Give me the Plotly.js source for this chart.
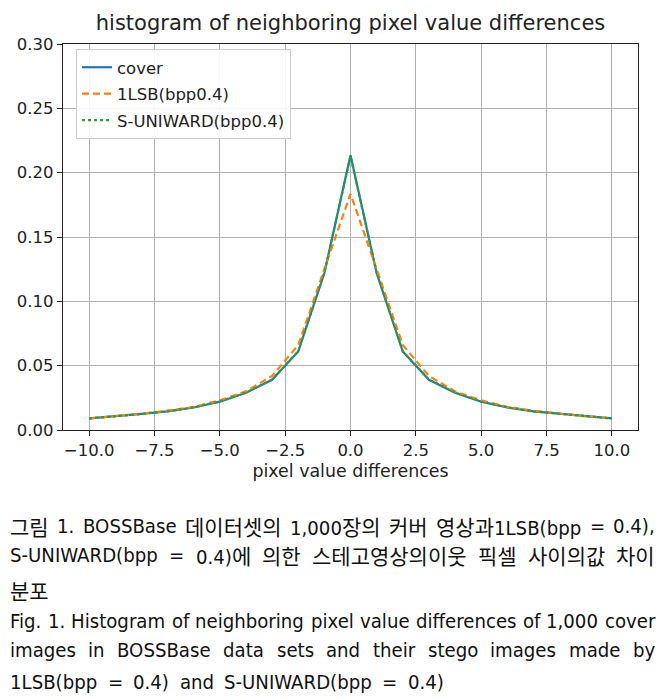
<!DOCTYPE html>
<html>
<head>
<meta charset="utf-8">
<script src="https://cdn.plot.ly/plotly-3.0.1.min.js"></script>
<style>
  html, body { margin: 0; padding: 0; background: #fff; }
  #chart { width: 666px; height: 699px; }
</style>
</head>
<body>
<div id="chart"></div>
<script>
// pixel value differences on the x axis
const diffs = [-10, -9, -8, -7, -6, -5, -4, -3, -2, -1, 0, 1, 2, 3, 4, 5, 6, 7, 8, 9, 10];

// relative frequency
const coverVals = [0.009, 0.0105, 0.0125, 0.0145, 0.0175, 0.022, 0.029, 0.039, 0.061, 0.122, 0.2135,
                   0.122, 0.061, 0.039, 0.029, 0.022, 0.0175, 0.0145, 0.0125, 0.0105, 0.009];
const lsbVals = [0.009, 0.0106, 0.0127, 0.015, 0.018, 0.023, 0.030, 0.042, 0.066, 0.125, 0.1836,
                 0.125, 0.066, 0.042, 0.030, 0.023, 0.018, 0.015, 0.0127, 0.0106, 0.009];
const suniVals = [0.009, 0.0105, 0.0125, 0.0145, 0.0176, 0.0221, 0.0291, 0.0392, 0.0612, 0.1222, 0.2128,
                  0.1222, 0.0612, 0.0392, 0.0291, 0.0221, 0.0176, 0.0145, 0.0125, 0.0105, 0.009];

const xTicks = [-10, -7.5, -5, -2.5, 0, 2.5, 5, 7.5, 10];

// caption under the figure (paper text)
const captionLines = [
    '그림 1. BOSSBase 데이터셋의 1,000장의 커버 영상과1LSB(bpp = 0.4),',
    'S-UNIWARD(bpp = 0.4)에 의한 스테고영상의이웃 픽셀 사이의값 차이',
    '분포',
    'Fig. 1. Histogram of neighboring pixel value differences of 1,000 cover',
    'images in BOSSBase data sets and their stego images made by',
    '1LSB(bpp = 0.4) and S-UNIWARD(bpp = 0.4)'
];
const captionY = [526, 555, 590, 621, 650, 682];
const captionRight = [655, 655, 0, 655, 655, 444]; // 0 = no justification

const W = 666, H = 699;
const M = { l: 63, r: 28, t: 44, b: 269 };
const plotW = W - M.l - M.r, plotH = H - M.t - M.b;

const ctx = document.createElement('canvas').getContext('2d');

// pick a narrow sans if one is installed
function hasFont(name) {
    const probe = 'Histogram of neighboring 0123456789';
    ctx.font = '40px monospace';
    const a = ctx.measureText(probe).width;
    ctx.font = '40px "' + name + '", monospace';
    return Math.abs(ctx.measureText(probe).width - a) > 0.5;
}
const narrow = ['Liberation Sans Narrow', 'DejaVu Sans Condensed', 'Liberation Sans'].find(hasFont) || 'Liberation Sans';
const LATIN_FONT = '"' + narrow + '", "Liberation Sans", Arial, sans-serif';
const KOREAN_FONT = '"Noto Sans CJK KR", sans-serif';
const KO_SIZE = 21;

// size the latin text so the English line fits the column with ordinary spaces
ctx.font = '22px ' + LATIN_FONT;
const CAP_SIZE = Math.min(22, 22 * 640 / ctx.measureText(captionLines[3]).width);

function measureWord(word) {
    // Hangul runs use the CJK font
    let w = 0;
    word.split(/([\u3131-\uD79D]+)/).forEach(part => {
        if (!part) return;
        if (/[\u3131-\uD79D]/.test(part)) ctx.font = KO_SIZE + 'px ' + KOREAN_FONT;
        else ctx.font = CAP_SIZE + 'px ' + LATIN_FONT;
        w += ctx.measureText(part).width;
    });
    return w;
}

function markupWord(word) {
    return word.replace(/([\u3131-\uD79D]+)/g,
        '<span style="font-family:\'Noto Sans CJK KR\';font-size:' + KO_SIZE + 'px">$1</span>');
}

function captionAnnotations() {
    const anns = [];
    ctx.font = CAP_SIZE + 'px ' + LATIN_FONT;
    const spaceW = ctx.measureText(' ').width;
    captionLines.forEach((line, i) => {
        const words = line.split(' ');
        const widths = words.map(measureWord);
        const total = widths.reduce((a, b) => a + b, 0);
        let gap = spaceW;
        if (captionRight[i] && words.length > 1) {
            gap = Math.max(2, (captionRight[i] - 10 - total) / (words.length - 1));
        }
        let px = 10;
        words.forEach((word, j) => {
            anns.push({
                text: markupWord(word),
                xref: 'paper', yref: 'paper',
                x: (px - M.l - 1) / plotW,
                y: (M.t + plotH - captionY[i]) / plotH,
                xanchor: 'left', yanchor: 'middle',
                showarrow: false,
                borderpad: 0,
                font: { family: LATIN_FONT, size: CAP_SIZE, color: '#111' }
            });
            px += widths[j] + gap;
        });
    });
    return anns;
}

const tickFont = { family: 'DejaVu Sans', size: 16.5, color: '#222' };

const traces = [
    {
        x: diffs, y: coverVals, name: 'cover', mode: 'lines', legendgroup: 'a',
        line: { color: '#1f77b4', width: 2.2 }
    },
    {
        x: diffs, y: lsbVals, name: '1LSB(bpp0.4)', mode: 'lines', legendgroup: 'b',
        line: { color: '#ff7f0e', width: 2.2, dash: '7px,4px' }
    },
    {
        x: diffs, y: suniVals, name: 'S-UNIWARD(bpp0.4)', mode: 'lines', legendgroup: 'c',
        line: { color: '#2ca02c', width: 2.2, dash: 'dot' }
    }
];

const layout = {
    width: W, height: H,
    margin: M,
    paper_bgcolor: '#fff', plot_bgcolor: '#fff',
    font: { family: 'DejaVu Sans', color: '#222' },
    title: {
        text: 'histogram of neighboring pixel value differences',
        font: { family: 'DejaVu Sans', size: 21, color: '#222' },
        x: 0.5 + (M.l - M.r) / 2 / W, xanchor: 'center',
        yref: 'container', y: (H - 23) / H, yanchor: 'middle'
    },
    xaxis: {
        range: [-11, 11],
        tickvals: xTicks,
        tickformat: '.1f',
        ticks: 'outside', ticklen: 5, tickcolor: '#222',
        showgrid: true, gridcolor: '#b0b0b0', gridwidth: 1,
        zeroline: false,
        showline: true, linecolor: '#222', linewidth: 1.3, mirror: true,
        tickfont: tickFont,
        title: { text: 'pixel value differences', font: { family: 'DejaVu Sans', size: 17.4, color: '#222' }, standoff: 5 }
    },
    yaxis: {
        range: [0, 0.30],
        dtick: 0.05,
        tickformat: '.2f',
        ticks: 'outside', ticklen: 5, tickcolor: '#222',
        showgrid: true, gridcolor: '#b0b0b0', gridwidth: 1,
        zeroline: false,
        showline: true, linecolor: '#222', linewidth: 1.3, mirror: true,
        tickfont: tickFont
    },
    legend: {
        x: (76 - M.l) / plotW, y: 1 - (49 - M.t) / plotH,
        xanchor: 'left', yanchor: 'top',
        bgcolor: 'rgba(255,255,255,0.9)',
        bordercolor: '#cccccc', borderwidth: 1,
        tracegroupgap: 2,
        font: { family: 'DejaVu Sans', size: 16.5, color: '#222' }
    },
    showlegend: true,
    annotations: captionAnnotations()
};

Plotly.newPlot('chart', traces, layout, { displayModeBar: false, staticPlot: true });
</script>
</body>
</html>
